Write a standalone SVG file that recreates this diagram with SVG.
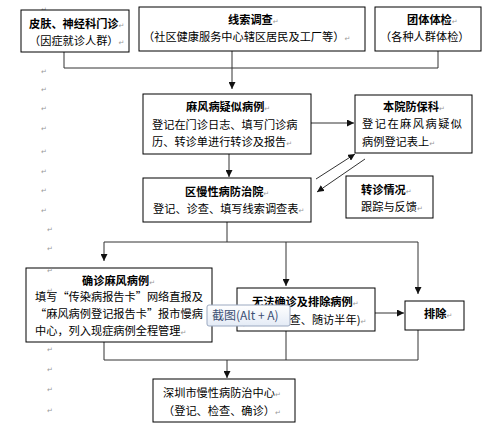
<svg xmlns="http://www.w3.org/2000/svg" width="490" height="431" viewBox="0 0 490 431">
<style>
.box{fill:#fff;stroke:#000;stroke-width:1}
.t{font-family:"Noto Sans CJK SC","Liberation Sans",sans-serif;font-size:11.2px;fill:#000}
.b{font-weight:bold}
.pm{font-family:"DejaVu Sans",sans-serif;font-size:7px;fill:#999;font-weight:normal}
.c{fill:none;stroke:#333;stroke-width:1}
</style>
<defs>
<marker id="ah" viewBox="0 0 10 10" refX="10" refY="5" markerWidth="7" markerHeight="7" markerUnits="userSpaceOnUse" orient="auto">
<path d="M0,0 L10,5 L0,10 z" fill="#111"/>
</marker>
<linearGradient id="tipg" x1="0" y1="0" x2="0" y2="1">
<stop offset="0" stop-color="#ffffff"/>
<stop offset="1" stop-color="#e4ebf6"/>
</linearGradient>
</defs>

<g id="marks">
<text class="pm" x="41" y="12">↵</text>
<text class="pm" x="41" y="53">↵</text>
<text class="pm" x="41" y="74">↵</text>
<text class="pm" x="41" y="92">↵</text>
<text class="pm" x="41" y="111">↵</text>
<text class="pm" x="41" y="131">↵</text>
<text class="pm" x="41" y="154">↵</text>
<text class="pm" x="41" y="174">↵</text>
<text class="pm" x="41" y="193">↵</text>
<text class="pm" x="41" y="213">↵</text>
<text class="pm" x="47" y="232">↵</text>
<text class="pm" x="47" y="251">↵</text>
<text class="pm" x="47" y="352">↵</text>
<text class="pm" x="47" y="372">↵</text>
<text class="pm" x="47" y="392">↵</text>
<text class="pm" x="47" y="413">↵</text>
</g>

<g id="connectors">
<path class="c" d="M64,52 V68 H438 V51"/>
<path class="c" d="M232,51 V89" marker-end="url(#ah)"/>
<path class="c" d="M311,123 H354" marker-end="url(#ah)"/>
<path class="c" d="M229,154 V177" marker-end="url(#ah)"/>
<path class="c" d="M316,179 L355,154" marker-end="url(#ah)"/>
<path class="c" d="M365,159 L317,192" marker-end="url(#ah)"/>
<path class="c" d="M227,222 V242"/>
<path class="c" d="M104,242 H418"/>
<path class="c" d="M104,242 V261" marker-end="url(#ah)"/>
<path class="c" d="M286,242 V286" marker-end="url(#ah)"/>
<path class="c" d="M418,242 V294" marker-end="url(#ah)"/>
<path class="c" d="M375,313 H404" marker-end="url(#ah)"/>
<path class="c" d="M104,342 V360 H418 V330"/>
<path class="c" d="M286,331 V360"/>
<path class="c" d="M227,360 V378" marker-end="url(#ah)"/>
</g>

<g id="n1">
<rect class="box" x="21" y="10" width="108" height="42"/>
<text class="t b" x="29" y="28">皮肤、神经科门诊<tspan class="pm">↵</tspan></text>
<text class="t" x="29" y="45">（因症就诊人群）<tspan class="pm">↵</tspan></text>
</g>

<g id="n2">
<rect class="box" x="139" y="7" width="226" height="44"/>
<text class="t b" x="228" y="24">线索调查<tspan class="pm">↵</tspan></text>
<text class="t" x="143" y="41">（社区健康服务中心辖区居民及工厂等）<tspan class="pm">↵</tspan></text>
</g>

<g id="n3">
<rect class="box" x="375" y="7" width="106" height="44"/>
<text class="t b" x="407" y="24">团体体检<tspan class="pm">↵</tspan></text>
<text class="t" x="380" y="41">（各种人群体检）</text>
</g>

<g id="n4">
<rect class="box" x="143" y="94" width="168" height="60"/>
<text class="t b" x="186" y="111">麻风病疑似病例<tspan class="pm">↵</tspan></text>
<text class="t" x="152" y="129">登记在门诊日志、填写门诊病</text>
<text class="t" x="152" y="146">历、转诊单进行转诊及报告<tspan class="pm">↵</tspan></text>
</g>

<g id="n5">
<rect class="box" x="355" y="95" width="117" height="58"/>
<text class="t b" x="383" y="111">本院防保科<tspan class="pm">↵</tspan></text>
<text class="t" x="362" y="128" letter-spacing="1.5">登记在麻风病疑似</text>
<text class="t" x="362" y="146">病例登记表上<tspan class="pm">↵</tspan></text>
</g>

<g id="n6">
<rect class="box" x="143" y="178" width="168" height="44"/>
<text class="t b" x="185" y="196">区慢性病防治院<tspan class="pm">↵</tspan></text>
<text class="t" x="153" y="213">登记、诊查、填写线索调查表<tspan class="pm">↵</tspan></text>
</g>

<g id="n7">
<rect class="box" x="346" y="176" width="87" height="42"/>
<text class="t b" x="361" y="194">转诊情况<tspan class="pm">↵</tspan></text>
<text class="t" x="361" y="211">跟踪与反馈<tspan class="pm">↵</tspan></text>
</g>

<g id="n8">
<rect class="box" x="26" y="268" width="186" height="74"/>
<text class="pm" x="47" y="273">↵</text>
<text class="pm" x="47" y="293">↵</text>
<text class="t b" x="82" y="285">确诊麻风病例<tspan class="pm">↵</tspan></text>
<text class="t" x="35" y="301">填写“传染病报告卡”网络直报及</text>
<text class="t" x="35" y="318">“麻风病例登记报告卡”报市慢病</text>
<text class="t" x="35" y="335">中心，列入现症病例全程管理<tspan class="pm">↵</tspan></text>
</g>

<g id="n9">
<rect class="box" x="237" y="288" width="138" height="43"/>
<text class="t b" x="252" y="306">无法确诊及排除病例<tspan class="pm">↵</tspan></text>
<text class="t" x="241" y="324">(登记、检查、随访半年)<tspan class="pm">↵</tspan></text>
</g>

<g id="n10">
<rect class="box" x="405" y="301" width="59" height="29"/>
<text class="t b" x="424" y="318">排除<tspan class="pm">↵</tspan></text>
</g>

<g id="n11">
<rect class="box" x="153" y="379" width="142" height="43"/>
<text class="t" x="163" y="397">深圳市慢性病防治中心<tspan class="pm">↵</tspan></text>
<text class="t" x="163" y="415">（登记、检查、确诊）<tspan class="pm">↵</tspan></text>
</g>

<g id="tooltip">
<rect x="207" y="305" width="83" height="21" rx="2" fill="url(#tipg)" stroke="#9aa8c0" stroke-width="1"/>
<text x="212" y="320" font-family="Noto Sans CJK SC, Liberation Sans, sans-serif" font-size="12" fill="#3d4f73">截图(Alt + A)</text>
</g>
</svg>
